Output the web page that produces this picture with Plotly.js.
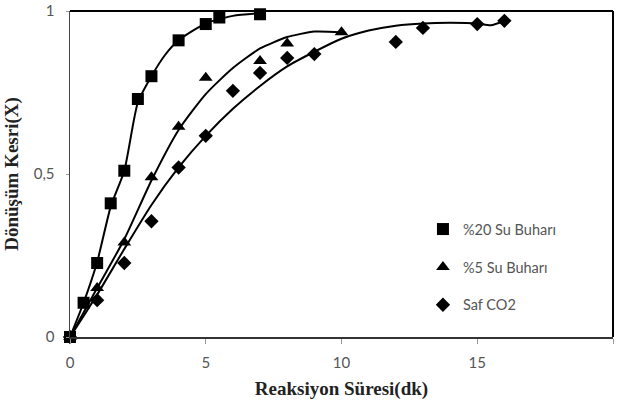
<!DOCTYPE html>
<html>
<head>
<meta charset="utf-8">
<script src="https://cdn.plot.ly/plotly-3.0.1.min.js"></script>
<style>html,body{margin:0;padding:0;background:#fff;}#chart{width:621px;height:406px;}</style>
</head>
<body>
<div id="chart"></div>
<script>
// Measured points
const sqX = [0, 0.5, 1, 1.5, 2, 2.5, 3, 4, 5, 5.5, 7];
const sqY = [0, 0.105, 0.227, 0.41, 0.51, 0.73, 0.80, 0.91, 0.96, 0.98, 0.99];
const trX = [0, 1, 2, 3, 4, 5, 7, 8, 10];
const trY = [0, 0.15, 0.29, 0.49, 0.645, 0.795, 0.847, 0.90, 0.935];
const diX = [0, 1, 2, 3, 4, 5, 6, 7, 8, 9, 12, 13, 15, 16];
const diY = [0, 0.113, 0.227, 0.355, 0.52, 0.617, 0.755, 0.81, 0.856, 0.868, 0.905, 0.948, 0.96, 0.97];
// Trend curves
const sqFitX = [0, 0.5, 1, 1.5, 2, 2.5, 3, 3.5, 4, 5, 6, 7];
const sqFitY = [0, 0.105, 0.23, 0.40, 0.51, 0.72, 0.80, 0.865, 0.91, 0.962, 0.985, 0.993];
const trFitX = [0, 1, 2, 3, 4, 5, 6, 7, 8, 9, 10];
const trFitY = [0, 0.15, 0.30, 0.48, 0.635, 0.745, 0.825, 0.885, 0.92, 0.937, 0.935];
const diFitX = [0, 1, 2, 3, 4, 5, 6, 7, 8, 9, 10, 11, 12, 13, 14, 15, 15.5, 16];
const diFitY = [0, 0.13, 0.27, 0.405, 0.52, 0.617, 0.70, 0.77, 0.83, 0.875, 0.915, 0.94, 0.955, 0.962, 0.964, 0.962, 0.956, 0.97];
const names = ['%20 Su Buharı', '%5 Su Buharı', 'Saf CO2'];
const yTickVals = [0, 0.5, 1];
const yTickText = ['0', '0,5', '1'];
const xTickVals = [0, 5, 10, 15, 20];

const lineStyle = {color: '#000', width: 2};
const traces = [
  {x: sqFitX, y: sqFitY, mode: 'lines', line: Object.assign({shape: 'spline', smoothing: 0.6}, lineStyle), showlegend: false, hoverinfo: 'skip'},
  {x: trFitX, y: trFitY, mode: 'lines', line: Object.assign({shape: 'spline', smoothing: 0.6}, lineStyle), showlegend: false, hoverinfo: 'skip'},
  {x: diFitX, y: diFitY, mode: 'lines', line: Object.assign({shape: 'spline', smoothing: 0.6}, lineStyle), showlegend: false, hoverinfo: 'skip'},
  {x: sqX, y: sqY, mode: 'markers', name: names[0], legendgroup: 'a', marker: {symbol: 'square', size: 12, color: '#000'}, cliponaxis: false},
  {x: trX, y: trY, mode: 'markers', name: names[1], legendgroup: 'b', marker: {symbol: 'triangle-up', size: 12, color: '#000'}, cliponaxis: false},
  {x: diX, y: diY, mode: 'markers', name: names[2], legendgroup: 'c', marker: {symbol: 'diamond', size: 11, color: '#000'}, cliponaxis: false}
];

const tickFont = {family: 'Lato, "Open Sans", sans-serif', size: 15, color: '#555'};
const titleFont = {family: '"Liberation Serif", "Times New Roman", serif', size: 19, color: '#222', weight: 'bold'};

const layout = {
  width: 621, height: 406,
  margin: {l: 70, r: 8, t: 11, b: 69, pad: 0},
  paper_bgcolor: '#fff', plot_bgcolor: '#fff',
  showlegend: true,
  legend: {x: 0.65, y: 0.38, xanchor: 'left', yanchor: 'top', traceorder: 'grouped', tracegroupgap: 16,
           font: {family: 'Lato, "Open Sans", sans-serif', size: 14.5, color: '#555'}, bgcolor: 'rgba(0,0,0,0)'},
  xaxis: {range: [0, 20], tickvals: xTickVals, showgrid: false, zeroline: false, showline: true, linecolor: '#333', linewidth: 2,
          ticks: 'outside', ticklen: 5, tickcolor: '#999', tickfont: tickFont, ticklabelstandoff: 6,
          title: {text: 'Reaksiyon Süresi(dk)', font: titleFont, standoff: 12}},
  yaxis: {range: [0, 1], tickvals: yTickVals, ticktext: yTickText, showgrid: false, zeroline: false, showline: true, linecolor: '#444', linewidth: 1.5,
          ticks: 'outside', ticklen: 3, tickcolor: '#999', tickfont: tickFont, ticklabelstandoff: 8,
          title: {text: 'Dönüşüm Kesri(X)', font: titleFont, standoff: 10}},
  shapes: [
    {type: 'line', xref: 'paper', yref: 'paper', x0: 0, x1: 1, y0: 1, y1: 1, line: {color: '#000', width: 2}},
    {type: 'line', xref: 'paper', yref: 'paper', x0: 1, x1: 1, y0: 0, y1: 1, line: {color: '#000', width: 2}}
  ]
};

Plotly.newPlot('chart', traces, layout, {displayModeBar: false, staticPlot: true});
</script>
</body>
</html>
